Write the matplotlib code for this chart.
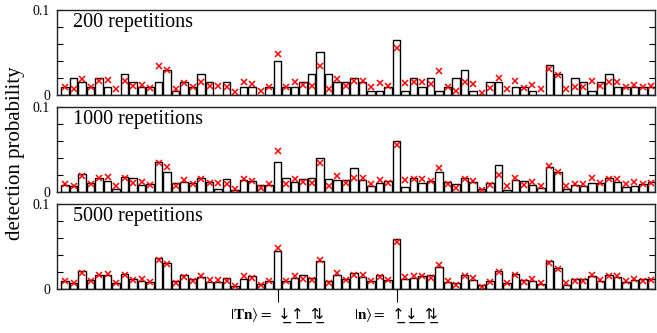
import numpy as np
import matplotlib
matplotlib.use('Agg')
import matplotlib.pyplot as plt

plt.rcParams['font.family'] = ['Liberation Serif', 'DejaVu Sans']
plt.rcParams['mathtext.fontset'] = 'stix'

# basis states 1..70
states = np.arange(1, 71)

# exact probabilities (red crosses), same in every panel
exact = [0.010, 0.007, 0.019, 0.009, 0.016, 0.018, 0.007, 0.017, 0.011, 0.012,
         0.008, 0.034, 0.029, 0.007, 0.014, 0.010, 0.015, 0.011, 0.011, 0.010,
         0.003, 0.015, 0.013, 0.005, 0.009, 0.048, 0.010, 0.015, 0.012, 0.011,
         0.034, 0.0065, 0.019, 0.011, 0.017, 0.017, 0.010, 0.014, 0.011, 0.055,
         0.014, 0.015, 0.015, 0.0135, 0.028, 0.0095, 0.005, 0.015, 0.013, 0.0025,
         0.008, 0.020, 0.007, 0.0165, 0.008, 0.012, 0.0075, 0.031, 0.023, 0.0075,
         0.010, 0.010, 0.0165, 0.011, 0.015, 0.0155, 0.010, 0.012, 0.010, 0.0105]

# measured frequencies
rep200 = [0.010, 0.020, 0.015, 0.010, 0.020, 0.010, 0.000, 0.025, 0.015, 0.010,
          0.010, 0.015, 0.030, 0.005, 0.015, 0.010, 0.025, 0.015, 0.000, 0.015,
          0.000, 0.010, 0.010, 0.000, 0.010, 0.040, 0.010, 0.010, 0.015, 0.025,
          0.050, 0.025, 0.015, 0.015, 0.020, 0.015, 0.005, 0.005, 0.010, 0.065,
          0.005, 0.020, 0.010, 0.020, 0.005, 0.010, 0.020, 0.030, 0.005, 0.000,
          0.015, 0.015, 0.000, 0.010, 0.010, 0.005, 0.000, 0.035, 0.025, 0.000,
          0.020, 0.015, 0.005, 0.015, 0.025, 0.010, 0.010, 0.010, 0.010, 0.010]

rep1000 = [0.008, 0.007, 0.021, 0.011, 0.017, 0.013, 0.004, 0.018, 0.016, 0.008,
           0.010, 0.035, 0.024, 0.011, 0.012, 0.011, 0.017, 0.012, 0.003, 0.015,
           0.002, 0.014, 0.013, 0.008, 0.008, 0.035, 0.016, 0.012, 0.015, 0.017,
           0.040, 0.015, 0.014, 0.014, 0.028, 0.014, 0.007, 0.011, 0.013, 0.060,
           0.006, 0.016, 0.011, 0.013, 0.024, 0.012, 0.009, 0.017, 0.012, 0.004,
           0.011, 0.032, 0.002, 0.014, 0.013, 0.008, 0.005, 0.029, 0.024, 0.003,
           0.008, 0.007, 0.011, 0.011, 0.017, 0.012, 0.006, 0.007, 0.009, 0.012]

rep5000 = [0.0098, 0.0075, 0.0210, 0.0106, 0.0160, 0.0160, 0.0075, 0.0176, 0.0120, 0.0090,
           0.0080, 0.0365, 0.0310, 0.0090, 0.0160, 0.0114, 0.0137, 0.0080, 0.0080, 0.0130,
           0.0035, 0.0120, 0.0150, 0.0060, 0.0090, 0.0450, 0.0098, 0.0133, 0.0160, 0.0130,
           0.0325, 0.0090, 0.0160, 0.0120, 0.0184, 0.0145, 0.0090, 0.0169, 0.0102, 0.0584,
           0.0114, 0.0130, 0.0153, 0.0160, 0.0255, 0.0082, 0.0067, 0.0160, 0.0106, 0.0043,
           0.0090, 0.0216, 0.0075, 0.0176, 0.0106, 0.0090, 0.0060, 0.0325, 0.0247, 0.0050,
           0.0114, 0.0114, 0.0153, 0.0098, 0.0160, 0.0145, 0.0082, 0.0106, 0.0114, 0.0120]

panel_titles = ['200 repetitions', '1000 repetitions', '5000 repetitions']
panel_data = [rep200, rep1000, rep5000]

state_ticks = [26, 40]
# arrows with a combining low line under each site
state_labels = ['$|\\mathbf{Tn}\\rangle =$ \u2193\u0332\u2191\u0332_\u21c5\u0332',
                '$|\\mathbf{n}\\rangle =$ \u2191\u0332\u2193\u0332_\u21c5\u0332']

fig = plt.figure(figsize=(6.57, 3.33), dpi=100)

bottoms = [0.7147, 0.4234, 0.1321]
height = 0.2553
left, width = 0.0868, 0.9109

for k in range(3):
    ax = fig.add_axes([left, bottoms[k], width, height])
    ax.bar(states, panel_data[k], width=0.9, color='white', edgecolor='black', linewidth=1.0)
    ax.plot(states, exact, 'x', color='red', markersize=4.5, markeredgewidth=1.1)
    ax.set_xlim(0.06, 70.47)
    ax.set_ylim(0, 0.1)
    ax.set_yticks([0, 0.02, 0.04, 0.06, 0.08, 0.1])
    ax.set_yticklabels(['0', '', '', '', '', '0.1'])
    ax.tick_params(axis='y', direction='in', left=True, right=True, length=4.5, width=0.8,
                   labelsize=10, pad=5)
    ax.text(0.027, 0.97, panel_titles[k], transform=ax.transAxes, ha='left', va='top', fontsize=14.5)
    for s in ax.spines.values():
        s.set_linewidth(1.0)
        s.set_color('#222222')
    if k < 2:
        ax.set_xticks([])
    else:
        ax.set_xticks(state_ticks)
        ax.set_xticklabels(state_labels, fontsize=11, family=['DejaVu Sans'])
        ax.tick_params(axis='x', direction='out', length=9, width=0.8, pad=3)

fig.text(0.023, 0.54, 'detection probability', rotation=90, ha='center', va='center', fontsize=15)

fig.savefig('out.png', dpi=100)
